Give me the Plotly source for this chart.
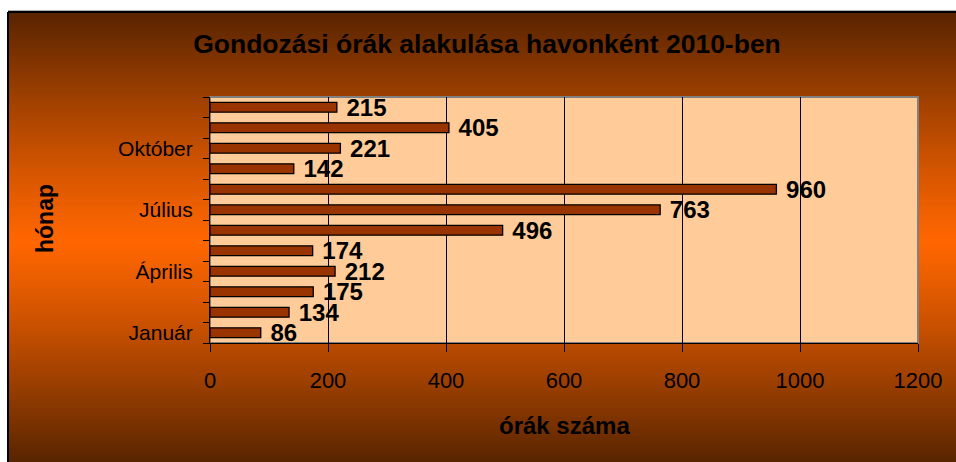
import plotly.graph_objects as go

months = ["Január", "Február", "Március", "Április", "Május", "Június",
          "Július", "Augusztus", "Szeptember", "Október", "November", "December"]
hours = [86, 134, 175, 212, 174, 496, 763, 960, 142, 221, 405, 215]
shown_labels = ["Január", "Április", "Július", "Október"]
x_ticks = [0, 200, 400, 600, 800, 1000, 1200]

title = "Gondozási órák alakulása havonként 2010-ben"
x_title = "órák száma"
y_title = "hónap"

W, H = 956, 462
L, R, T, B = 210, 38, 97, 119
PW, PH = W - L - R, H - T - B
FONT = "Liberation Sans, Arial, sans-serif"


def px_x(px):
    return (px - L) / PW


def px_y(py):
    return (H - B - py) / PH


ypos = list(range(len(months)))
tickvals = [months.index(m) for m in shown_labels]

fig = go.Figure()
fig.add_trace(go.Bar(
    y=ypos, x=hours, orientation="h",
    marker=dict(color="#993300", line=dict(color="black", width=1.3)),
    text=["\u00a0" + str(v) for v in hours], textposition="outside",
    textfont=dict(family=FONT, size=24, color="black", weight="bold"),
    constraintext="none", cliponaxis=False, width=0.48,
    hoverinfo="skip",
))

shapes = []
# background gradient (stripes)
top, bot = 12, H
center = 242
c_mid = (255, 102, 0)
c_edge = (88, 36, 0)
step = 3
py = top
while py < bot:
    mid = py + step / 2
    half = (center - top) if mid < center else (bot - center)
    t = min(1.0, abs(mid - center) / half) ** 1.15
    col = tuple(int(round(c_mid[i] + (c_edge[i] - c_mid[i]) * t)) for i in range(3))
    shapes.append(dict(type="rect", xref="paper", yref="paper", layer="below",
                       x0=px_x(8), x1=px_x(W + 2), y0=px_y(py + step + 0.5), y1=px_y(py),
                       fillcolor="rgb(%d,%d,%d)" % col, line=dict(width=0)))
    py += step
# frame lines
shapes.append(dict(type="line", xref="paper", yref="paper", layer="below",
                   x0=px_x(8), x1=px_x(8), y0=px_y(12), y1=px_y(H + 2),
                   line=dict(color="black", width=2)))
shapes.append(dict(type="line", xref="paper", yref="paper", layer="below",
                   x0=px_x(8), x1=px_x(W + 2), y0=px_y(12), y1=px_y(12),
                   line=dict(color="black", width=2)))
shapes.append(dict(type="line", xref="paper", yref="paper", layer="below",
                   x0=px_x(8), x1=px_x(W + 2), y0=px_y(10.5), y1=px_y(10.5),
                   line=dict(color="#b0b0b0", width=1)))
# plot area
shapes.append(dict(type="rect", xref="paper", yref="paper", layer="below",
                   x0=0, x1=1, y0=0, y1=1, fillcolor="#FFCC99",
                   line=dict(color="#808080", width=2)))

annotations = [
    dict(text="<b>" + y_title + "</b>", xref="paper", yref="paper",
         x=px_x(45), y=px_y(219), textangle=-90, showarrow=False,
         font=dict(family=FONT, size=23, color="black"), xanchor="center", yanchor="middle"),
    dict(text="<b>" + x_title + "</b>", xref="paper", yref="paper",
         x=px_x(564), y=px_y(425), showarrow=False,
         font=dict(family=FONT, size=24, color="black"), xanchor="center", yanchor="middle"),
]

fig.update_layout(
    width=W, height=H,
    margin=dict(l=L, r=R, t=T, b=B),
    paper_bgcolor="white", plot_bgcolor="#FFCC99",
    showlegend=False,
    title=dict(text="<b>" + title + "</b>", x=487 / W, xref="container", xanchor="center",
               y=1 - 44 / H, yref="container", yanchor="middle",
               font=dict(family=FONT, size=26.5, color="black")),
    shapes=shapes, annotations=annotations,
    xaxis=dict(range=[0, 1200], tickvals=x_ticks, ticktext=[str(v) for v in x_ticks],
               showgrid=True, gridcolor="black", gridwidth=1,
               showline=True, linecolor="black", linewidth=1,
               ticks="outside", ticklen=8, tickcolor="black",
               tickfont=dict(family=FONT, size=22, color="black"),
               ticklabelstandoff=10, zeroline=False, fixedrange=True),
    yaxis=dict(range=[-0.5, len(months) - 0.5], tickvals=tickvals, ticktext=shown_labels,
               showgrid=False, zeroline=False,
               showline=True, linecolor="black", linewidth=1,
               ticks="outside", ticklen=0,
               minor=dict(tickvals=[i - 0.5 for i in range(len(months) + 1)],
                          ticks="outside", ticklen=6, tickcolor="black", showgrid=False),
               tickfont=dict(family=FONT, size=21, color="black"),
               ticklabelstandoff=12, fixedrange=True),
)

fig.write_html("out.html", config={"displayModeBar": False},
               post_script="document.body.style.margin='0';document.body.style.overflow='hidden';")
